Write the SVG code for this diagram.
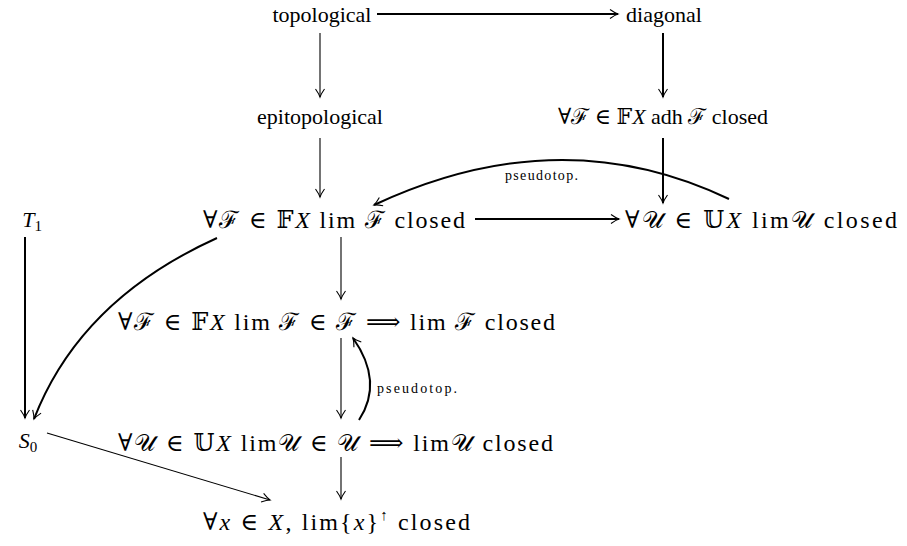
<svg xmlns="http://www.w3.org/2000/svg" width="907" height="546" viewBox="0 0 907 546">
<style>
text{font-family:"Liberation Serif","DejaVu Serif",serif;font-size:22px;fill:#000;text-anchor:middle}
.m{text-anchor:start;font-size:24px}
.i{font-style:italic}
.sm{font-size:14px;text-anchor:start}
.sub{font-size:15px}
.thin{fill:none;stroke:#000;stroke-width:1.1}
.thick{fill:none;stroke:#000;stroke-width:2}
</style>
<defs>
<marker id="ah" markerUnits="userSpaceOnUse" markerWidth="14" markerHeight="12" viewBox="-10 -6 12 12" refX="0" refY="0" orient="auto">
<path d="M-8,-4.5 Q-3,-1 0,0 Q-3,1 -8,4.5" fill="none" stroke="#000" stroke-width="1.1"/>
</marker>
</defs>
<rect width="907" height="546" fill="#fff"/>
<g id="connectors">
<path class="thick" d="M377,14 H618" marker-end="url(#ah)"/>
<path class="thin" d="M320,33 V97" marker-end="url(#ah)"/>
<path class="thick" d="M663,33 V97" marker-end="url(#ah)"/>
<path class="thin" d="M320,138 V197" marker-end="url(#ah)"/>
<path class="thick" d="M663,138 V203" marker-end="url(#ah)"/>
<path class="thick" d="M475,219 H619" marker-end="url(#ah)"/>
<path class="thick" d="M729,199 Q560,118 374,205" marker-end="url(#ah)"/>
<path class="thin" d="M341,237 V299" marker-end="url(#ah)"/>
<path class="thick" d="M217,238 Q80,300 34,419" marker-end="url(#ah)"/>
<path class="thick" d="M25,237 V418" marker-end="url(#ah)"/>
<path class="thin" d="M341,338 V418" marker-end="url(#ah)"/>
<path class="thick" d="M359,420 Q384,382 353,338" marker-end="url(#ah)"/>
<path class="thin" d="M341,457 V499" marker-end="url(#ah)"/>
<path class="thin" d="M47,433 L270,500" marker-end="url(#ah)"/>
</g>
<g id="topological"><text x="322" y="22">topological</text></g>
<g id="diagonal"><text x="664" y="22">diagonal</text></g>
<g id="epitopological"><text x="320" y="124">epitopological</text></g>
<g id="adh"><text x="663" y="124">∀ℱ ∈ 𝔽<tspan class="i">X</tspan>  adh ℱ closed</text></g>
<g id="T1"><text x="32" y="227"><tspan class="i">T</tspan><tspan class="sub" dy="4">1</tspan></text></g>
<g id="limF"><text class="m" x="203" y="228" textLength="262" lengthAdjust="spacing">∀ℱ ∈ 𝔽<tspan class="i">X</tspan> lim ℱ closed</text></g>
<g id="limU"><text class="m" x="625" y="228" textLength="272" lengthAdjust="spacing">∀𝒰 ∈ 𝕌<tspan class="i">X</tspan> lim𝒰 closed</text></g>
<g id="pseudotop1"><text class="sm" x="505" y="180" textLength="73" lengthAdjust="spacing">pseudotop.</text></g>
<g id="rowF"><text class="m" x="118" y="330" textLength="437" lengthAdjust="spacing">∀ℱ ∈ 𝔽<tspan class="i">X</tspan> lim ℱ ∈ ℱ ⟹ lim ℱ closed</text></g>
<g id="pseudotop2"><text class="sm" x="377" y="393" textLength="80" lengthAdjust="spacing">pseudotop.</text></g>
<g id="S0"><text x="28" y="448"><tspan class="i">S</tspan><tspan class="sub" dy="4">0</tspan></text></g>
<g id="rowU"><text class="m" x="118" y="451" textLength="435" lengthAdjust="spacing">∀𝒰 ∈ 𝕌<tspan class="i">X</tspan> lim𝒰 ∈ 𝒰 ⟹ lim𝒰 closed</text></g>
<g id="bottom"><text class="m" x="203" y="530" textLength="267" lengthAdjust="spacing">∀<tspan class="i">x</tspan> ∈ <tspan class="i">X</tspan>, lim{<tspan class="i">x</tspan>}<tspan class="sub" dy="-10">↑</tspan><tspan dy="10"> closed</tspan></text></g>
</svg>
